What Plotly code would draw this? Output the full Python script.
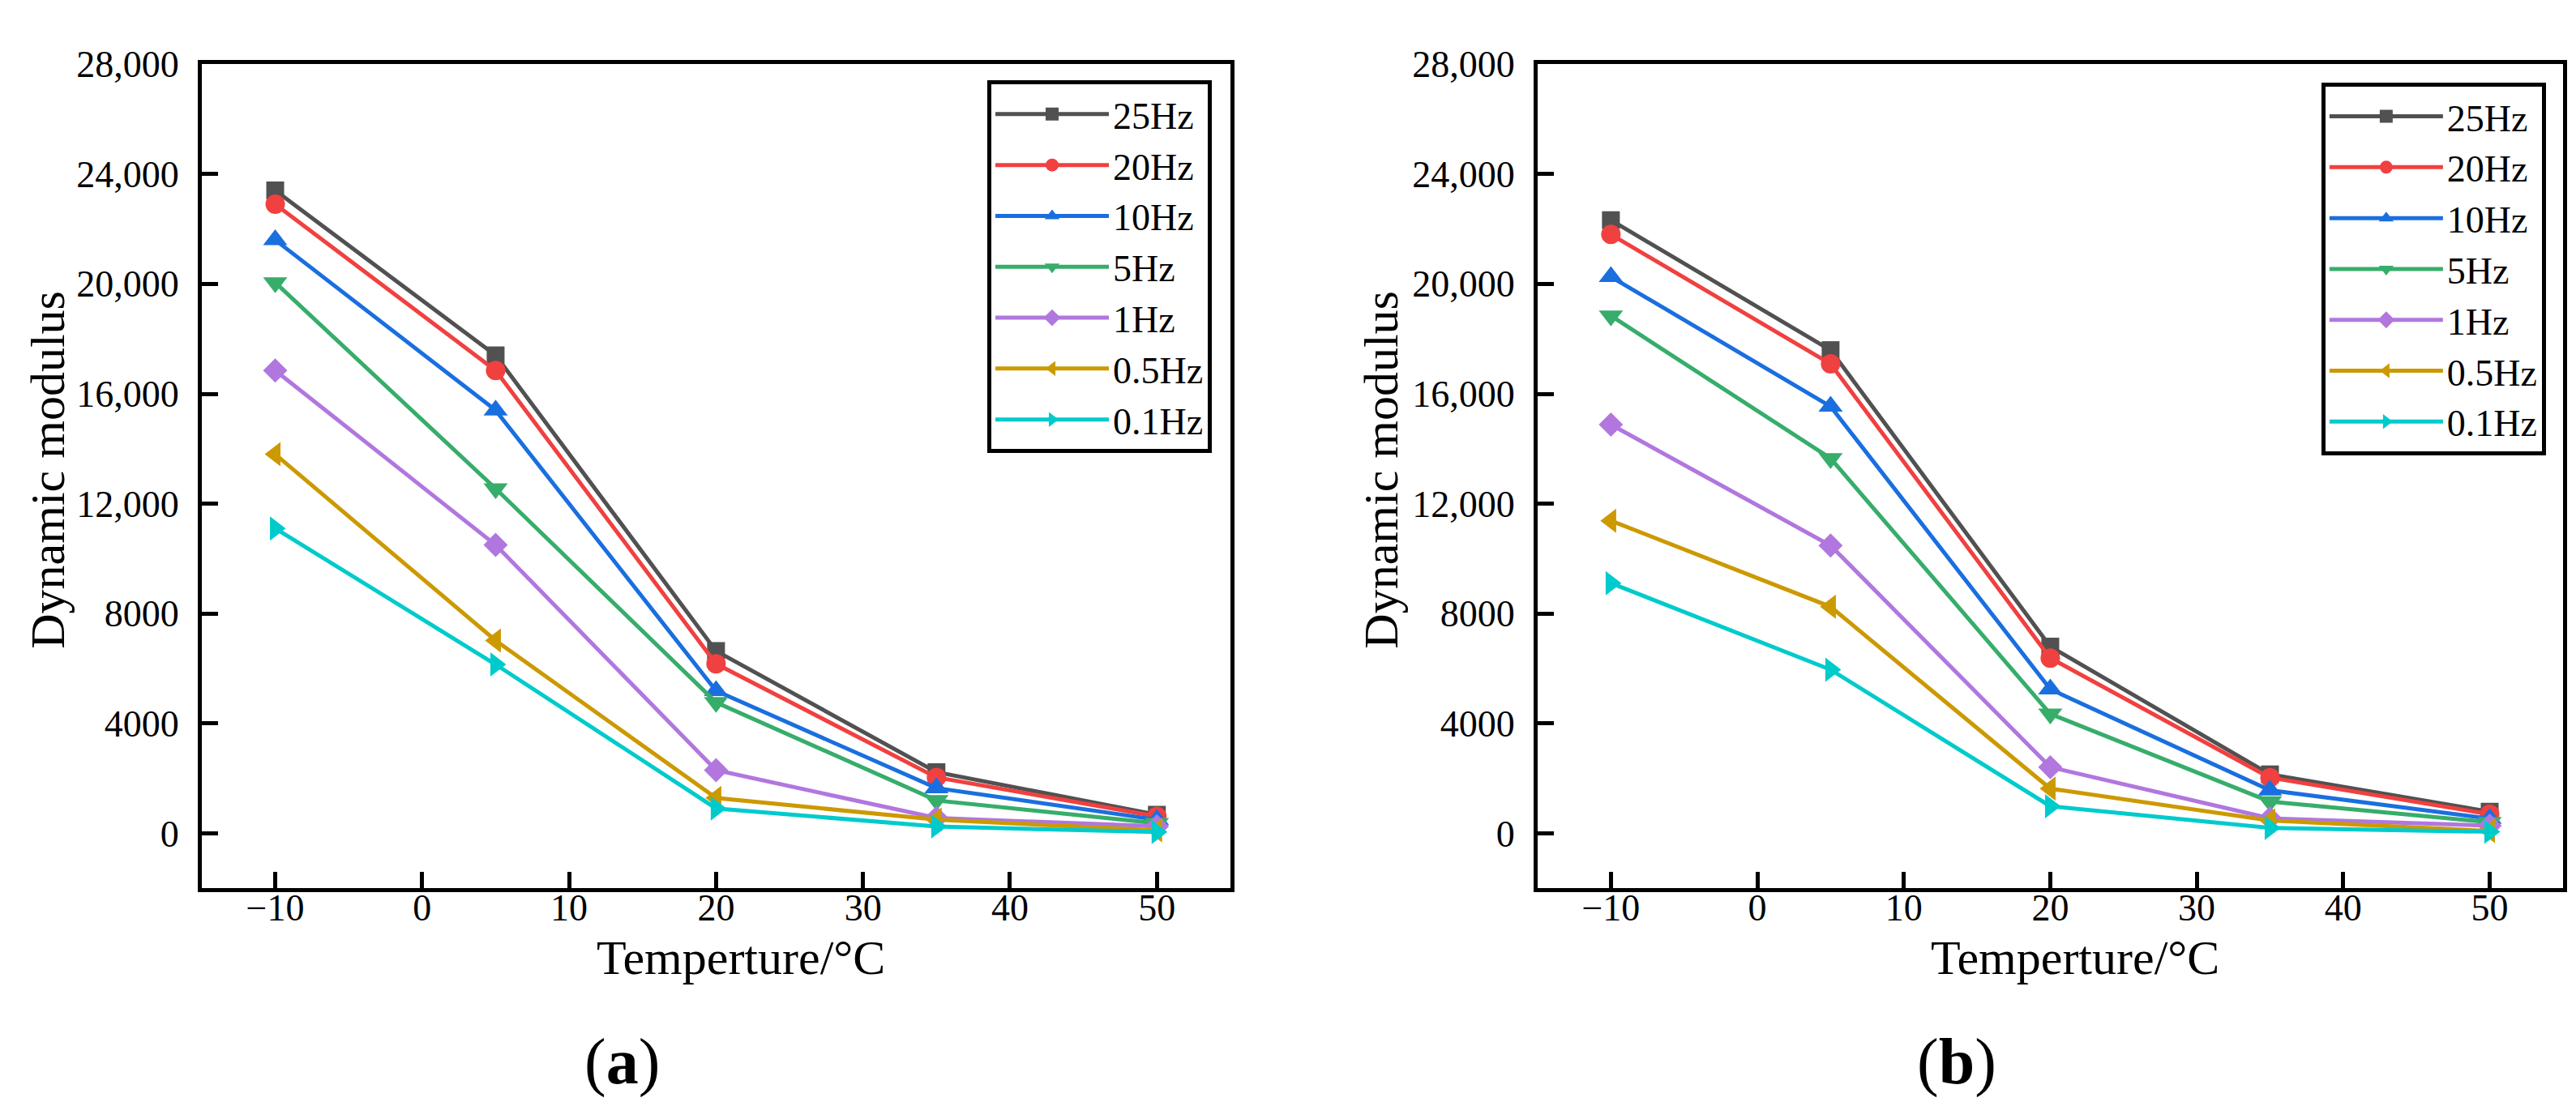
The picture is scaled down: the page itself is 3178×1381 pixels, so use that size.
import plotly.graph_objects as go

temperature = [-10, 5, 20, 35, 50]
series_names = ["25Hz", "20Hz", "10Hz", "5Hz", "1Hz", "0.5Hz", "0.1Hz"]

# Panel (a)
a_25hz = [23400, 17400, 6640, 2230, 680]
a_20hz = [22900, 16850, 6170, 2040, 620]
a_10hz = [21600, 15400, 5190, 1650, 500]
a_5hz = [20050, 12550, 4770, 1200, 370]
a_1hz = [16850, 10500, 2300, 560, 260]
a_05hz = [13800, 7020, 1290, 500, 110]
a_01hz = [11100, 6150, 910, 250, 50]

# Panel (b)
b_25hz = [22320, 17590, 6800, 2150, 790]
b_20hz = [21800, 17090, 6380, 2030, 700]
b_10hz = [20260, 15540, 5250, 1570, 540]
b_5hz = [18840, 13650, 4350, 1160, 410]
b_1hz = [14880, 10480, 2410, 550, 280]
b_05hz = [11380, 8250, 1630, 470, 90]
b_01hz = [9110, 5960, 990, 200, 60]

y_tickvals = [0, 4000, 8000, 12000, 16000, 20000, 24000, 28000]
y_ticktext = ["0", "4000", "8000", "12,000", "16,000", "20,000", "24,000", "28,000"]
x_tickvals = [-10, 0, 10, 20, 30, 40, 50]
x_ticktext = ["\u221210", "0", "10", "20", "30", "40", "50"]

colors = ["#515151", "#F14040", "#1A6FDF", "#37AD6B", "#B177DE", "#CC9900", "#00CBCC"]
symbols = ["square", "circle", "triangle-up", "triangle-down", "diamond",
           "triangle-left", "triangle-right"]
msizes = [22, 24, 26, 26, 23, 26, 26]

panel_a = [a_25hz, a_20hz, a_10hz, a_5hz, a_1hz, a_05hz, a_01hz]
panel_b = [b_25hz, b_20hz, b_10hz, b_5hz, b_1hz, b_05hz, b_01hz]

FONT = "Liberation Serif"
fig = go.Figure()

for i, name in enumerate(series_names):
    fig.add_trace(go.Scatter(
        x=temperature, y=panel_a[i], name=name, mode="lines+markers",
        line=dict(color=colors[i], width=5),
        marker=dict(symbol=symbols[i], size=msizes[i], color=colors[i]),
        xaxis="x", yaxis="y", legend="legend"))
for i, name in enumerate(series_names):
    fig.add_trace(go.Scatter(
        x=temperature, y=panel_b[i], name=name, mode="lines+markers",
        line=dict(color=colors[i], width=5),
        marker=dict(symbol=symbols[i], size=msizes[i], color=colors[i]),
        xaxis="x2", yaxis="y2", legend="legend2"))

axis_common = dict(
    showline=True, linewidth=5, linecolor="black", mirror=True,
    ticks="inside", ticklen=20, tickwidth=5, tickcolor="black",
    showgrid=False, zeroline=False,
    tickfont=dict(family=FONT, size=46, color="black"),
)

ydom = [0.2158, 0.966]
legend_common = dict(
    xanchor="right", yanchor="top",
    bordercolor="black", borderwidth=5, bgcolor="white",
    font=dict(family=FONT, size=46, color="black"),
    itemwidth=140, tracegroupgap=0,
)
fig.update_layout(
    width=3178, height=1381,
    margin=dict(l=0, r=0, t=0, b=0),
    paper_bgcolor="white", plot_bgcolor="white",
    font=dict(family=FONT, color="black"),
    xaxis=dict(domain=[0.0758, 0.4751], range=[-15, 55], anchor="y",
               tickvals=x_tickvals, ticktext=x_ticktext, ticklabelstandoff=-21,
               **axis_common),
    yaxis=dict(domain=ydom, range=[-2000, 28000], anchor="x",
               tickvals=y_tickvals, ticktext=y_ticktext, ticklabelstandoff=14,
               **axis_common),
    xaxis2=dict(domain=[0.5944, 0.9924], range=[-15, 55], anchor="y2",
                tickvals=x_tickvals, ticktext=x_ticktext, ticklabelstandoff=-21,
                **axis_common),
    yaxis2=dict(domain=ydom, range=[-2000, 28000], anchor="x2",
                tickvals=y_tickvals, ticktext=y_ticktext, ticklabelstandoff=14,
                **axis_common),
    legend=dict(x=0.4679, y=0.951, **legend_common),
    legend2=dict(x=0.9858, y=0.949, **legend_common),
)

ann_font = dict(family=FONT, size=60, color="black")
annotations = [
    dict(text="Dynamic modulus", x=0.016, y=0.5967, xref="paper", yref="paper",
         textangle=-90, showarrow=False, font=ann_font, xanchor="center", yanchor="middle"),
    dict(text="Dynamic modulus", x=0.5336, y=0.5967, xref="paper", yref="paper",
         textangle=-90, showarrow=False, font=ann_font, xanchor="center", yanchor="middle"),
    dict(text="Temperture/\u00b0C", x=21.7, y=0.153, xref="x", yref="paper",
         showarrow=False, font=ann_font, xanchor="center", yanchor="middle"),
    dict(text="Temperture/\u00b0C", x=21.7, y=0.153, xref="x2", yref="paper",
         showarrow=False, font=ann_font, xanchor="center", yanchor="middle"),
    dict(text="(<b>a</b>)", x=13.6, y=0.058, xref="x", yref="paper",
         showarrow=False, font=dict(family=FONT, size=80, color="black"),
         xanchor="center", yanchor="middle"),
    dict(text="(<b>b</b>)", x=13.6, y=0.058, xref="x2", yref="paper",
         showarrow=False, font=dict(family=FONT, size=80, color="black"),
         xanchor="center", yanchor="middle"),
]
fig.update_layout(annotations=annotations)

fig.write_html("out.html")
